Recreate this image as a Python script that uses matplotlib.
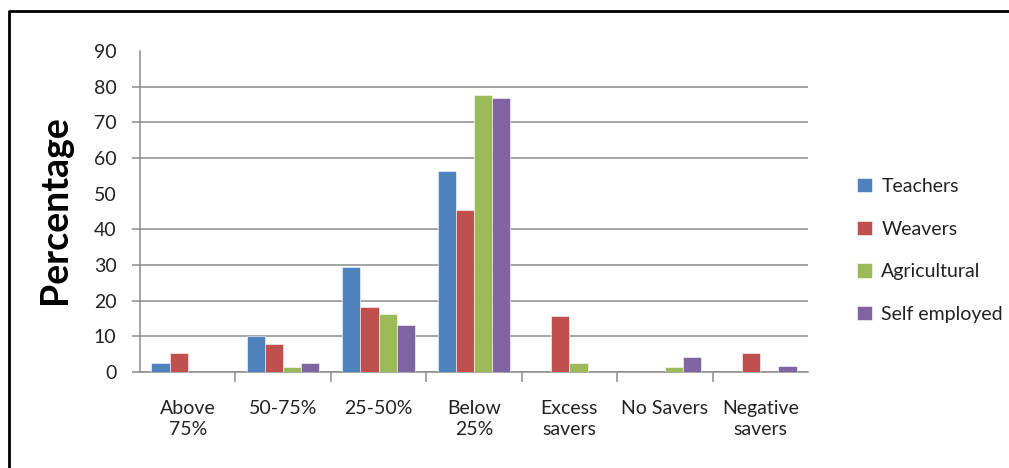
import numpy as np
import matplotlib.pyplot as plt
from matplotlib.lines import Line2D

plt.rcParams['font.family'] = ['Lato', 'DejaVu Sans']

categories = ['Above\n75%', '50-75%', '25-50%', 'Below\n25%', 'Excess\nsavers', 'No Savers', 'Negative\nsavers']
teachers = [2.5, 10.2, 29.4, 56.3, 0, 0, 0]
weavers = [5.3, 7.8, 18.3, 45.4, 15.8, 0, 5.3]
agricultural = [0, 1.4, 16.4, 77.6, 2.5, 1.4, 0]
self_employed = [0, 2.5, 13.1, 76.8, 0, 4.2, 1.7]

series = [('Teachers', teachers, '#4F81BD'),
          ('Weavers', weavers, '#C0504D'),
          ('Agricultural', agricultural, '#9BBB59'),
          ('Self employed', self_employed, '#8064A2')]

fig = plt.figure(figsize=(10.09, 4.68), dpi=100)
ax = fig.add_axes([140/1009, 1-372/468, 668/1009, 321/468])

x = np.arange(len(categories))
w = 0.19
for i, (name, vals, col) in enumerate(series):
    ax.bar(x + (i - 1.5)*w, vals, w, color=col, label=name,
           edgecolor='white', linewidth=0.4, zorder=3)

ax.set_xlim(-0.5, len(categories) - 0.5)
ax.set_ylim(0, 90)
ax.set_yticks(np.arange(0, 91, 10))
ax.yaxis.grid(True, color='#8c8c8c', linewidth=1.1, zorder=0)
# the scan shows no grid line / tick at 50 and 90
for val, gl, tk in zip(ax.get_yticks(), ax.get_ygridlines(), ax.yaxis.get_major_ticks()):
    if val in (50, 90):
        gl.set_visible(False)
        tk.tick1line.set_visible(False)

for s in ['top', 'right']:
    ax.spines[s].set_visible(False)
for s in ['left', 'bottom']:
    ax.spines[s].set_color('#8c8c8c')
    ax.spines[s].set_linewidth(1.1)

ax.tick_params(axis='y', length=6, width=1.1, color='#8c8c8c', pad=11,
               labelsize=14, labelcolor='#222222')
ax.set_xticks(x)
ax.set_xticklabels(categories, fontsize=14, color='#222222', linespacing=1.3)
ax.tick_params(axis='x', which='major', length=0, pad=20)
ax.set_xticks(np.arange(0.5, len(categories) - 0.5, 1), minor=True)
ax.tick_params(axis='x', which='minor', length=7, width=1.1, color='#8c8c8c')

fig.text(55/1009, 1-210/468, 'Percentage', rotation=90, ha='center', va='center',
         fontsize=27, fontweight='bold', color='black')

fig.legend(loc='center left', bbox_to_anchor=(0.832, 0.465), frameon=False,
           fontsize=14, labelspacing=1.32, handlelength=0.75, handleheight=0.75,
           handletextpad=0.5, labelcolor='#222222')

# frame around the chart (only top and left edges visible in the scan)
fig.add_artist(Line2D([9/1009, 9/1009, 1.0], [0.0, 1-11/468, 1-11/468],
                      transform=fig.transFigure, color='black', linewidth=2))

fig.savefig('out.png', dpi=100)
